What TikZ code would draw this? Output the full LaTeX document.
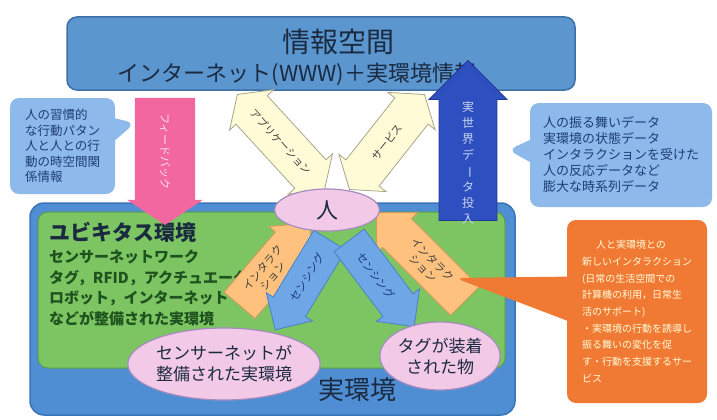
\documentclass[tikz,border=0pt]{standalone}
\usepackage{fontspec}
\setmainfont{Noto Sans CJK JP}
\usepackage{graphicx}
\usepackage{xcolor}
\definecolor{Steel Blue}{HTML}{5B96CF}
\definecolor{Deep Steel}{HTML}{3E6FA8}
\definecolor{Field Blue}{HTML}{4F8ED3}
\definecolor{Field Edge}{HTML}{3A74B8}
\definecolor{Meadow}{HTML}{7DC462}
\definecolor{Meadow Edge}{HTML}{5A9E45}
\definecolor{Blush}{HTML}{F2C9E6}
\definecolor{Blush Edge}{HTML}{A58CC0}
\definecolor{Hot Pink}{HTML}{F2679F}
\definecolor{Cobalt}{HTML}{2D4FC0}
\definecolor{Cobalt Edge}{HTML}{22399A}
\definecolor{Cream}{HTML}{FFFBD6}
\definecolor{Cream Edge}{HTML}{A7A58C}
\definecolor{Apricot}{HTML}{FFC27E}
\definecolor{Apricot Edge}{HTML}{D49A5A}
\definecolor{Sky}{HTML}{6FA7E6}
\definecolor{Sky Edge}{HTML}{4A80C8}
\definecolor{Bubble}{HTML}{8DBAEA}
\definecolor{Tangerine}{HTML}{F07A33}
\definecolor{Navy Ink}{HTML}{1E3C78}
\definecolor{Dark Ink}{HTML}{1A2A40}
\definecolor{Leaf Ink}{HTML}{1E521E}
\colorlet{cInfo}{Steel Blue}
\colorlet{cInfoEdge}{Deep Steel}
\colorlet{cField}{Field Blue}
\colorlet{cFieldEdge}{Field Edge}
\colorlet{cGreen}{Meadow}
\colorlet{cGreenEdge}{Meadow Edge}
\colorlet{cBlush}{Blush}
\colorlet{cBlushEdge}{Blush Edge}
\colorlet{cPink}{Hot Pink}
\colorlet{cCobalt}{Cobalt}
\colorlet{cCobaltEdge}{Cobalt Edge}
\colorlet{cCream}{Cream}
\colorlet{cCreamEdge}{Cream Edge}
\colorlet{cApricot}{Apricot}
\colorlet{cApricotEdge}{Apricot Edge}
\colorlet{cSky}{Sky}
\colorlet{cSkyEdge}{Sky Edge}
\colorlet{cBubble}{Bubble}
\colorlet{cOrange}{Tangerine}
\colorlet{cNavy}{Navy Ink}
\colorlet{cInk}{Dark Ink}
\colorlet{cLeaf}{Leaf Ink}
\usetikzlibrary{positioning, shapes.arrows, shapes.callouts, shapes.geometric}
\newcommand{\jsize}[2]{\fontsize{#1}{#2}\selectfont}
\tikzset{
	x = 1pt, y = -1pt,
	every node/.style={inner sep=0pt, outer sep=0pt},
	space box/.style={
		draw=cInfoEdge,
		fill=cInfo,
		line width=1.5pt,
		rounded corners=10pt
	},
	field box/.style={
		draw=cFieldEdge,
		fill=cField,
		line width=1.5pt,
		rounded corners=14pt
	},
	ubi box/.style={
		draw=cGreenEdge,
		fill=cGreen,
		line width=1pt,
		rounded corners=10pt
	},
	bubble/.style={
		ellipse,
		draw=cBlushEdge,
		fill=cBlush,
		line width=1.2pt,
		text=cInk,
		align=center
	},
	note bubble/.style={
		rectangle callout,
		fill=#1,
		rounded corners=9pt,
		align=left
	},
	cream arrow/.style={
		double arrow,
		draw=cCreamEdge,
		fill=cCream,
		line width=.8pt,
		minimum height=#1,
		minimum width=60pt,
		inner ysep=12pt,
		double arrow tip angle=110,
		text=black!75,
		font=\jsize{10.5}{12}
	},
	apricot arrow/.style={
		single arrow,
		draw=cApricotEdge,
		fill=cApricot,
		line width=.8pt,
		minimum height=#1,
		minimum width=58pt,
		inner ysep=5pt,
		text=black!75,
		align=center,
		font=\jsize{11}{13}
	},
	sky arrow/.style={
		single arrow,
		draw=cSkyEdge,
		fill=cSky,
		line width=.8pt,
		minimum height=#1,
		minimum width=54pt,
		inner ysep=11pt,
		text=cNavy,
		font=\jsize{11}{13}
	},
	pink arrow/.style={
		single arrow,
		fill=cPink,
		minimum height=127pt,
		minimum width=76pt,
		inner ysep=22pt,
		single arrow tip angle=113,
		text=white!80!cPink,
		font=\jsize{11}{13}
	},
	cobalt arrow/.style={
		single arrow,
		draw=cCobaltEdge,
		fill=cCobalt,
		line width=.8pt,
		minimum height=160pt,
		minimum width=78pt,
		inner ysep=20pt
	}
}

\begin{document}
\begin{tikzpicture}
\useasboundingbox (0,0) rectangle (717,420);
% ---
% information space
% ---
\node[space box, minimum width=508pt, minimum height=73pt] (space) at (321,53.5) {};
\node[font=\jsize{28}{32}, text=cInk] (space-title) at (338,42) {情報空間};
\node[font=\jsize{22}{26}, text=cInk] (space-sub) at (297,74) {インターネット(WWW)＋実環境情報};

% ---
% side notes
% ---
\node[note bubble=cBubble, minimum width=105pt, minimum height=96pt,
	callout absolute pointer={(135,123)}, callout pointer width=22pt,
	font=\jsize{12.5}{15.5}, text=cNavy] (habit) at (62.5,146)
	{人の習慣的\\な行動パタン\\人と人との行\\動の時空間関\\係情報};
\node[note bubble=cBubble, minimum width=182pt, minimum height=104pt,
	callout absolute pointer={(508,150)}, callout pointer width=22pt,
	font=\jsize{13}{16}, text=cNavy] (data) at (621,155)
	{人の振る舞いデータ\\実環境の状態データ\\インタラクションを受けた\\人の反応データなど\\膨大な時系列データ};

% ---
% real environment
% ---
\node[field box, minimum width=485pt, minimum height=212pt] (real) at (272.5,309) {};
\node[ubi box, minimum width=467pt, minimum height=156pt] (ubi) at (271.5,290) {};
\node[anchor=west, font=\jsize{21}{25}\bfseries, text=cInk] (ubi-title) at (49,232) {ユビキタス環境};
\node[anchor=north west, align=left, font=\jsize{15}{20.5}\bfseries, text=cLeaf] (ubi-list)
	at ([yshift=-8pt]ubi-title.south west)
	{センサーネットワーク\\タグ，RFID，アクチュエータ\\ロボット，インターネット\\などが整備された実環境};
\node[font=\jsize{26}{30}, text=cInk] (real-title) at (357,390) {実環境};

% ---
% flows
% ---
\node[cream arrow=129pt, rotate=-47.5] (app) at (281,142) {アプリケーション};
\node[cream arrow=121pt, rotate=51.7] (svc) at (387,142) {サービス};
\node[pink arrow, rotate=-90] (feed) at (165,151.5) {フィードバック};
\node[apricot arrow=108pt, rotate=49.5] (act-l) at (268,272) {インタラク\\ション};
\node[apricot arrow=125pt, rotate=-45, shape border rotate=180] (act-r) at (428,264) {インタラク\\ション};
\node[sky arrow=105pt, rotate=58.6, shape border rotate=180] (sense-l) at (307.5,277) {センシング};
\node[sky arrow=108pt, rotate=-53] (sense-r) at (376,276) {センシング};

% ---
% people and things
% ---
\node[bubble, minimum width=105pt, minimum height=42pt, font=\jsize{22}{26}] (person) at (327,210) {人};
\node[bubble, minimum width=187pt, minimum height=72pt, font=\jsize{17}{21}] (sensed) at (224,364) {センサーネットが\\整備された実環境};
\node[bubble, minimum width=115pt, minimum height=68pt, font=\jsize{17}{21}] (tagged) at (440,356) {タグが装着\\された物};

% ---
% interaction note
% ---
\node[note bubble=cOrange, minimum width=140pt, minimum height=183pt,
	callout absolute pointer={(455,278)}, callout pointer width=44pt,
	font=\jsize{10}{16.7}, text=white!85!yellow] (novel) at (637,311.5)
	{\hspace*{14pt}人と実環境との\\新しいインタラクション\\(日常の生活空間での\\計算機の利用，日常生\\活のサポート)\\・実環境の行動を誘導し\\振る舞いの変化を促\\す・行動を支援するサー\\ビス};

% ---
% data injection
% ---
\node[cobalt arrow, rotate=90] (inject) at (468,155) {};
\node[align=center, font=\jsize{12}{16}, text=white!75!cCobalt] (inject-text) at (468,163)
	{実\\世\\界\\デ\\\rotatebox[origin=c]{-90}{ー}\\タ\\投\\入};
\end{tikzpicture}
\end{document}
